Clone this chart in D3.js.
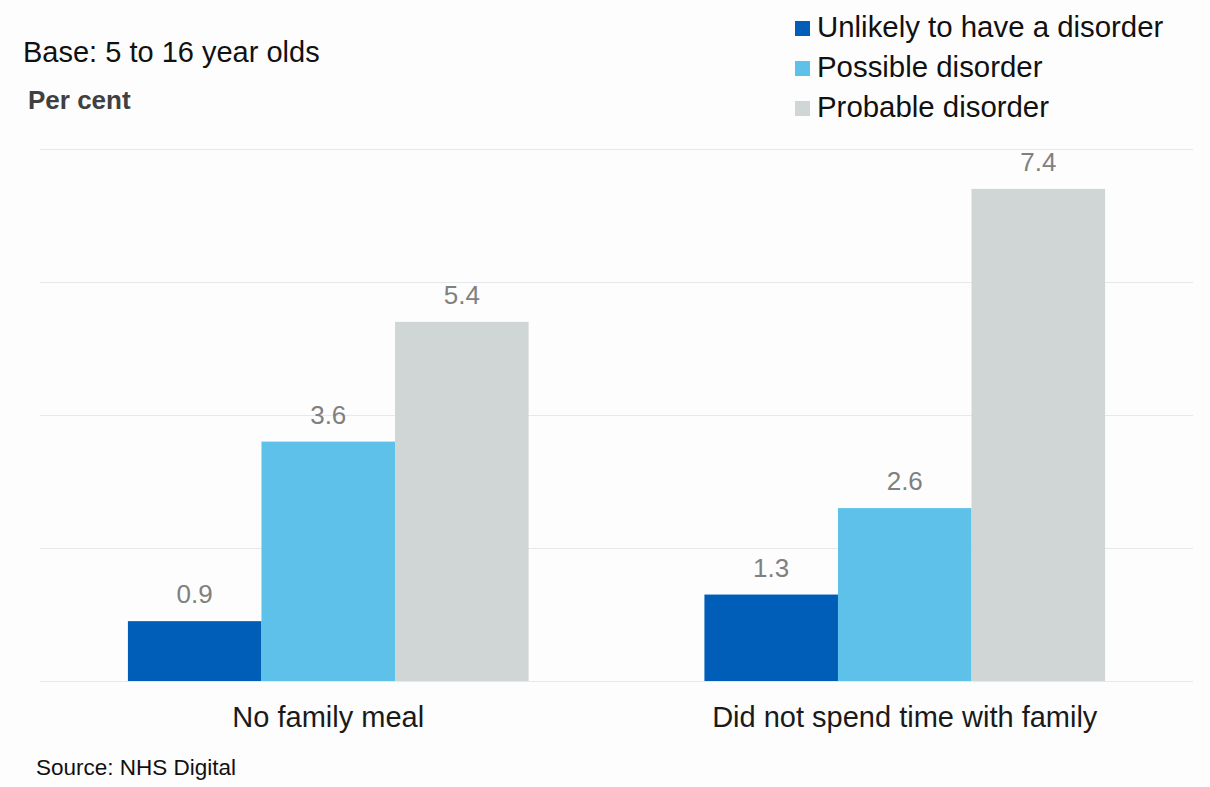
<!DOCTYPE html>
<html>
<head>
<meta charset="utf-8">
<script src="https://cdn.jsdelivr.net/npm/d3@7"></script>
<style>
  html, body { margin: 0; padding: 0; background: #fdfdfd; }
  svg { display: block; font-family: "Liberation Sans", Arial, sans-serif; }
</style>
</head>
<body>
<svg id="chart" width="1210" height="787"></svg>
<script>
const categories = ["No family meal", "Did not spend time with family"];
const seriesNames = ["Unlikely to have a disorder", "Possible disorder", "Probable disorder"];
const unlikelyValues = [0.9, 1.3];
const possibleValues = [3.6, 2.6];
const probableValues = [5.4, 7.4];
const yTicks = [0, 2, 4, 6, 8];
const seriesColors = ["#005EB8", "#5EC1EA", "#D0D5D6"];

const seriesValues = [unlikelyValues, possibleValues, probableValues];

const svg = d3.select("#chart");
const W = 1210, H = 787;
const margin = { left: 40, right: 17, top: 149, bottom: 106 };
const plotW = W - margin.left - margin.right;
const plotH = H - margin.top - margin.bottom;

const x0 = d3.scaleBand().domain(categories).range([0, plotW]).paddingInner(0.305).paddingOuter(0.1525);
const x1 = d3.scaleBand().domain(seriesNames).range([0, x0.bandwidth()]).padding(0);
const y = d3.scaleLinear().domain([0, 8]).range([plotH, 0]);

const g = svg.append("g").attr("transform", `translate(${margin.left},${margin.top})`);

// gridlines
g.append("g")
  .call(d3.axisLeft(y).tickValues(yTicks).tickSize(-plotW).tickFormat(""))
  .call(s => s.select(".domain").remove())
  .call(s => s.selectAll(".tick line").attr("stroke", "#e6e8e9").attr("stroke-width", 1));

// bars
const groups = g.selectAll("g.cat")
  .data(categories)
  .join("g")
  .attr("class", "cat")
  .attr("transform", d => `translate(${x0(d)},0)`);

groups.selectAll("rect")
  .data((d, i) => seriesNames.map((s, j) => ({ s, v: seriesValues[j][i], j })))
  .join("rect")
  .attr("x", d => x1(d.s))
  .attr("y", d => y(d.v))
  .attr("width", x1.bandwidth())
  .attr("height", d => y(0) - y(d.v))
  .attr("fill", d => seriesColors[d.j]);

groups.selectAll("text.val")
  .data((d, i) => seriesNames.map((s, j) => ({ s, v: seriesValues[j][i], j })))
  .join("text")
  .attr("class", "val")
  .attr("x", d => x1(d.s) + x1.bandwidth() / 2)
  .attr("y", d => y(d.v) - 18)
  .attr("text-anchor", "middle")
  .attr("font-size", 26)
  .attr("fill", "#808080")
  .text(d => d.v.toFixed(1));

// x axis labels
g.append("g")
  .attr("transform", `translate(0,${plotH})`)
  .call(d3.axisBottom(x0).tickSize(0).tickPadding(0))
  .call(s => s.select(".domain").remove())
  .call(s => s.selectAll(".tick text")
    .attr("y", 46)
    .attr("dy", 0)
    .attr("font-size", 29)
    .attr("font-family", "'Liberation Sans', Arial, sans-serif")
    .attr("fill", "#1a1a1a"));

// subtitle texts
svg.append("text").attr("x", 23).attr("y", 62).attr("font-size", 29).attr("fill", "#111")
  .text("Base: 5 to 16 year olds");
svg.append("text").attr("x", 28).attr("y", 109).attr("font-size", 26).attr("font-weight", "bold").attr("fill", "#404040")
  .text("Per cent");
svg.append("text").attr("x", 36).attr("y", 775).attr("font-size", 22.5).attr("fill", "#111")
  .text("Source: NHS Digital");

// legend
const legend = svg.append("g").attr("transform", "translate(795,0)");
seriesNames.forEach((name, i) => {
  const row = legend.append("g").attr("transform", `translate(0,${i * 40})`);
  row.append("rect").attr("x", 0).attr("y", 21).attr("width", 15).attr("height", 15).attr("fill", seriesColors[i]);
  row.append("text").attr("x", 22).attr("y", 37).attr("font-size", 29.4).attr("fill", "#111").text(name);
});
</script>
</body>
</html>
